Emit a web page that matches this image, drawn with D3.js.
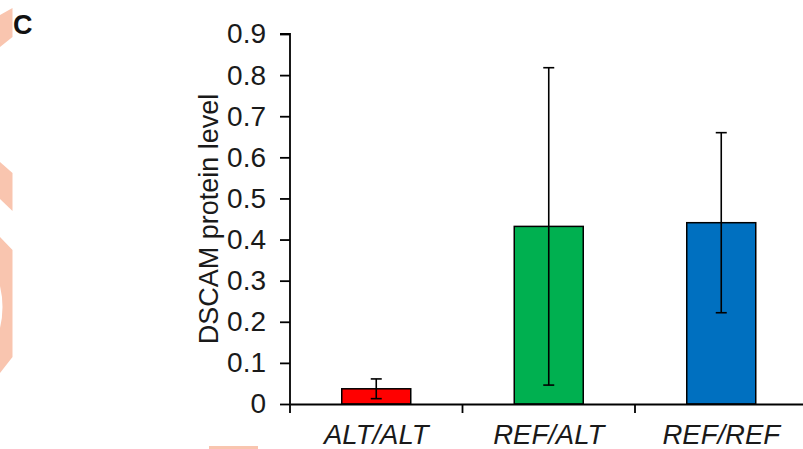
<!DOCTYPE html>
<html>
<head>
<meta charset="utf-8">
<script src="https://cdn.jsdelivr.net/npm/d3@7"></script>
<style>
  body { margin: 0; background: #fff; }
  svg { display: block; font-family: Arial, "Liberation Sans", sans-serif; }
</style>
</head>
<body>
<div id="chart"></div>
<script>
// data
var genotypes = ["ALT/ALT", "REF/ALT", "REF/REF"];
var means = [0.037, 0.432, 0.441];
var errs = [0.024, 0.386, 0.219];
var barColors = ["#ff0000", "#00b050", "#0070c0"];
var yTicks = [0, 0.1, 0.2, 0.3, 0.4, 0.5, 0.6, 0.7, 0.8, 0.9];

var width = 803, height = 449;
var margin = {top: 34, right: -4.5, bottom: 45, left: 290};

var svg = d3.select("#chart")
    .append("svg")
    .attr("width", width)
    .attr("height", height);

svg.append("rect").attr("width", width).attr("height", height).attr("fill", "#fff");

// faint watermark pieces at the left edge of the original figure
var wm = svg.append("g").attr("fill", "#f9c5af");
wm.append("path").attr("d", "M0,15 L12.5,8 L12.5,37 L0,47 Z");
wm.append("path").attr("d", "M0,162 L12.5,173 L12.5,211 L0,199 Z");
wm.append("path").attr("d", "M0,237 L12.5,250 L12.5,357 L0,373 L0,328 Q5,307 0,286 Z");
wm.append("rect").attr("x", 209).attr("y", 446).attr("width", 49).attr("height", 3);

// panel letter
svg.append("text")
    .attr("x", 13)
    .attr("y", 33.5)
    .style("font-size", "27px")
    .style("font-weight", "bold")
    .attr("fill", "#111")
    .text("C");

var x = d3.scaleBand()
    .domain(genotypes)
    .range([margin.left, width - margin.right])
    .padding(0);

var y = d3.scaleLinear()
    .domain([0, 0.9])
    .range([height - margin.bottom, margin.top]);

var bw = x.bandwidth() * 0.4;

// bars
svg.selectAll(".bar")
    .data(genotypes)
    .enter()
    .append("rect")
    .attr("class", "bar")
    .attr("x", function(d) { return x(d) + (x.bandwidth() - bw) / 2; })
    .attr("y", function(d, i) { return y(means[i]); })
    .attr("width", bw)
    .attr("height", function(d, i) { return y(0) - y(means[i]); })
    .attr("fill", function(d, i) { return barColors[i]; })
    .attr("stroke", "#000")
    .attr("stroke-width", 1.5);

// error bars
var eb = svg.selectAll(".err")
    .data(genotypes)
    .enter()
    .append("g")
    .attr("class", "err")
    .attr("stroke", "#000")
    .attr("stroke-width", 1.6);

eb.append("line")
    .attr("x1", function(d) { return x(d) + x.bandwidth() / 2; })
    .attr("x2", function(d) { return x(d) + x.bandwidth() / 2; })
    .attr("y1", function(d, i) { return y(means[i] + errs[i]); })
    .attr("y2", function(d, i) { return y(means[i] - errs[i]); });

[1, -1].forEach(function(sgn) {
    eb.append("line")
        .attr("x1", function(d) { return x(d) + x.bandwidth() / 2 - 5.5; })
        .attr("x2", function(d) { return x(d) + x.bandwidth() / 2 + 5.5; })
        .attr("y1", function(d, i) { return y(means[i] + sgn * errs[i]); })
        .attr("y2", function(d, i) { return y(means[i] + sgn * errs[i]); });
});

// y axis
var yAxis = svg.append("g")
    .attr("transform", "translate(" + margin.left + ",0)")
    .call(d3.axisLeft(y)
        .tickValues(yTicks)
        .tickSize(10)
        .tickPadding(14)
        .tickFormat(function(d) { return d === 0 ? "0" : d3.format(".1f")(d); }));

yAxis.select(".domain").attr("stroke-width", 1.8).attr("d", "M-10," + y(0.9) + "H0V" + y(0));
yAxis.selectAll(".tick line").attr("stroke-width", 1.8);
yAxis.selectAll(".tick text")
    .style("font-size", "28px")
    .style("font-family", "Arial, 'Liberation Sans', sans-serif")
    .attr("fill", "#1a1a1a");

// x axis: labels centred in each band, ticks at band edges
var xAxis = svg.append("g")
    .attr("transform", "translate(0," + y(0) + ")")
    .call(d3.axisBottom(x).tickSize(0).tickPadding(20));

xAxis.select(".domain").attr("stroke-width", 1.8);
xAxis.selectAll(".tick text")
    .style("font-size", "27.5px")
    .style("font-style", "italic")
    .style("font-family", "Arial, 'Liberation Sans', sans-serif")
    .attr("fill", "#1a1a1a");

var edges = genotypes.map(function(d) { return x(d); });
xAxis.selectAll(".edge")
    .data(edges)
    .enter()
    .append("line")
    .attr("class", "edge")
    .attr("x1", function(d) { return d; })
    .attr("x2", function(d) { return d; })
    .attr("y1", 0)
    .attr("y2", 9)
    .attr("stroke", "#000")
    .attr("stroke-width", 1.8);

// y axis title
svg.append("text")
    .attr("transform", "rotate(-90)")
    .attr("x", -(y(0) + y(0.9)) / 2)
    .attr("y", 217.5)
    .attr("text-anchor", "middle")
    .style("font-size", "27px")
    .attr("fill", "#1a1a1a")
    .text("DSCAM protein level");
</script>
</body>
</html>
